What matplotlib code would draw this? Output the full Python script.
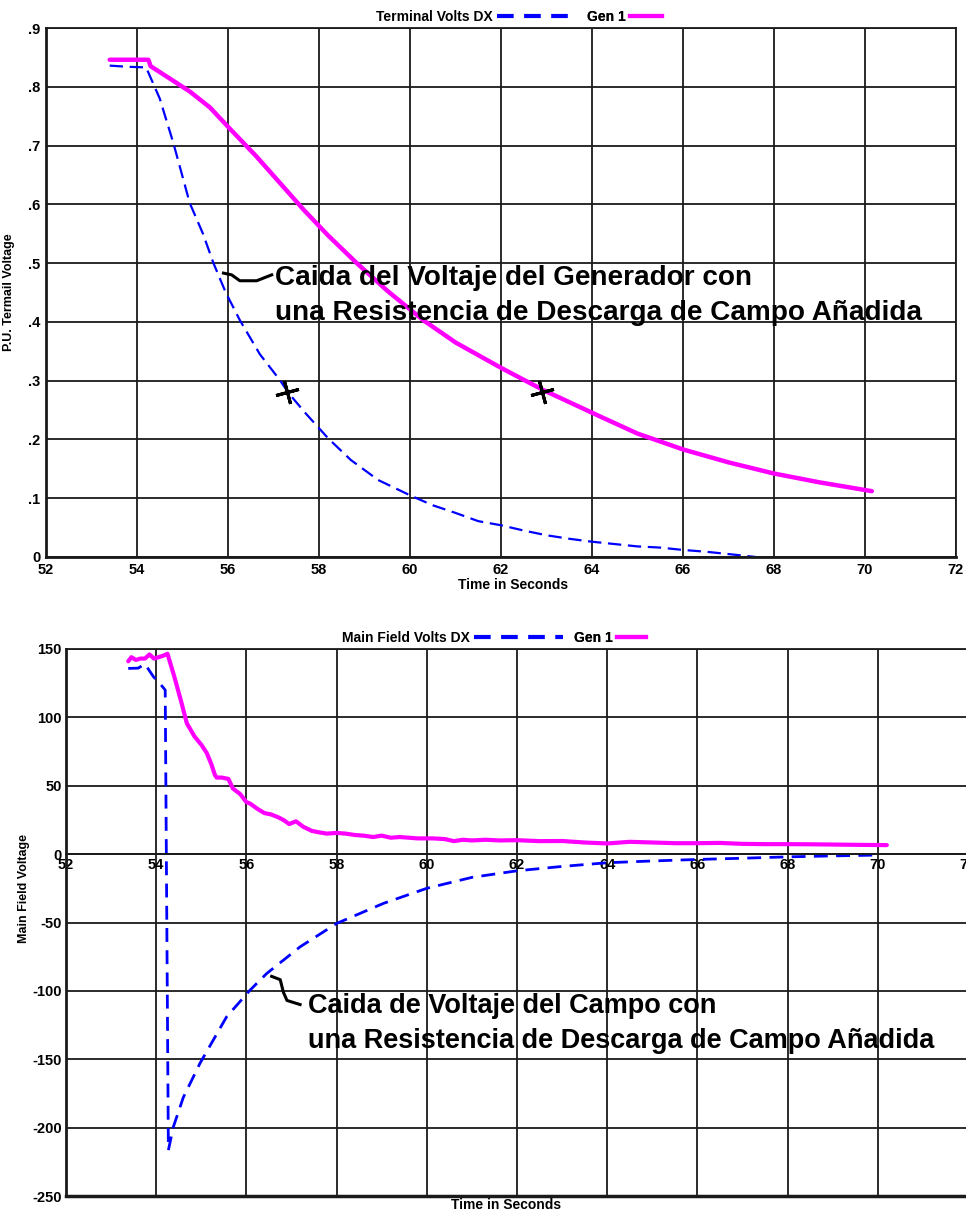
import numpy as np
import matplotlib
matplotlib.use("Agg")
import matplotlib.pyplot as plt
from matplotlib.lines import Line2D

plt.rcParams['font.family'] = ['Liberation Sans', 'DejaVu Sans']
plt.rcParams['font.weight'] = 'bold'
plt.rcParams['axes.unicode_minus'] = False

# ---- datos panel superior (tensión en bornes, p.u.) ----
top_time_dx = [53.4, 53.8, 54.2, 54.5, 54.8, 55.16, 55.45, 55.68, 55.95, 56.26, 56.7,
               57.14, 57.33, 57.7, 58.2, 58.7, 59.3, 60.0, 60.5, 61.0, 61.5, 62.0,
               62.5, 63.0, 63.5, 64.0, 64.5, 65.0, 65.5, 66.0, 66.5, 67.0, 67.6]
top_volts_dx = [0.836, 0.834, 0.833, 0.78, 0.704, 0.602, 0.55, 0.50, 0.45, 0.403, 0.345,
                0.301, 0.279, 0.245, 0.202, 0.165, 0.131, 0.105, 0.088, 0.075, 0.061, 0.054,
                0.045, 0.037, 0.031, 0.026, 0.022, 0.018, 0.016, 0.012, 0.009, 0.005, 0.0]

top_time_gen = [53.4, 53.8, 54.25, 54.3, 54.6, 55.16, 55.6, 56.0, 56.63, 57.1, 57.66,
                58.2, 58.83, 59.5, 60.29, 61.0, 62.02, 62.93, 64.18, 65.0, 66.0, 67.0,
                68.0, 69.0, 70.15]
top_volts_gen = [0.846, 0.846, 0.846, 0.835, 0.82, 0.792, 0.765, 0.732, 0.681, 0.64, 0.591,
                 0.547, 0.50, 0.453, 0.403, 0.365, 0.321, 0.284, 0.239, 0.210, 0.183, 0.161,
                 0.142, 0.127, 0.112]

top_marks_x = [57.3, 62.9]
top_marks_y = [0.28, 0.28]
top_conn_x = [55.90, 56.08, 56.26, 56.63, 56.96]
top_conn_y = [0.483, 0.480, 0.470, 0.470, 0.480]

top_yticks = [0, 0.1, 0.2, 0.3, 0.4, 0.5, 0.6, 0.7, 0.8, 0.9]
top_ylabels = ['0', '.1', '.2', '.3', '.4', '.5', '.6', '.7', '.8', '.9']

# ---- datos panel inferior (tensión de campo) ----
bot_time_dx = [53.38, 53.6, 53.75, 53.94, 54.1, 54.2, 54.27, 54.38, 54.6, 54.97, 55.56,
               56.08, 56.45, 57.19, 58.0, 59.04, 60.0, 61.0, 62.0, 63.0, 64.0, 65.0,
               66.0, 67.0, 68.0, 69.0, 70.0]
bot_volts_dx = [135.8, 136, 139, 129.7, 124, 120, -216.5, -199.5, -178, -153, -119,
                -99.5, -87.3, -67.8, -50.7, -36, -25, -17, -12.2, -9, -6.3, -5,
                -3.9, -3, -2, -1.3, -0.7]

bot_time_gen = [53.38, 53.45, 53.55, 53.65, 53.75, 53.85, 53.95, 54.05, 54.15, 54.25,
                54.4, 54.55, 54.68, 54.85, 55.0, 55.12, 55.22, 55.3, 55.34, 55.45,
                55.6, 55.7, 55.86, 56.0, 56.08, 56.25, 56.4, 56.55, 56.7, 56.82,
                56.95, 57.1, 57.26, 57.45, 57.6, 57.78, 58.0, 58.2, 58.4, 58.6,
                58.81, 59.0, 59.2, 59.4, 59.6, 59.8, 60.14, 60.4, 60.6, 60.8,
                61.0, 61.3, 61.62, 62.0, 62.5, 63.0, 63.5, 64.0, 64.5, 65.0,
                65.5, 66.0, 66.5, 67.0, 67.5, 68.0, 68.5, 69.0, 69.5, 70.2]
bot_volts_gen = [141, 144, 142, 143, 143, 146, 143, 144, 145, 146.5,
                 130, 112, 95.6, 86, 80, 74, 66, 58, 56, 56,
                 55, 48, 44, 38, 37, 33, 30, 29, 27, 25,
                 22, 24, 20, 17, 16, 15, 15.5, 15, 14, 13.5,
                 12.5, 13.5, 12, 12.5, 12, 11.5, 11.5, 11, 9.5, 10.5,
                 10, 10.5, 10, 10.2, 9.5, 9.6, 8.5, 7.8, 9, 8.5,
                 8, 8, 8.2, 7.5, 7.3, 7.3, 7.2, 7.0, 6.8, 6.6]

bot_conn_x = [56.56, 56.75, 56.82, 56.90, 57.19]
bot_conn_y = [-89.4, -91.8, -101, -107, -110]

bot_yticks = [-250, -200, -150, -100, -50, 0, 50, 100, 150]
xticks = [52, 54, 56, 58, 60, 62, 64, 66, 68, 70, 72]

BLUE = '#0000ff'
MAGENTA = '#ff00ff'
GRID = '#1a1a1a'
LEG = {'size': 10, 'weight': 'bold'}


def leyenda(ax, handle, label, xc, hl):
    lg = ax.legend([handle], [label], loc='lower center', bbox_to_anchor=(xc, 0.995),
                   frameon=False, markerfirst=False, handlelength=hl,
                   handletextpad=0.3, borderaxespad=0.1, prop=LEG)
    ax.add_artist(lg)


fig = plt.figure(figsize=(9.66, 12.13), dpi=100)

# ================= panel superior =================
ax1 = fig.add_axes([46 / 966, 1 - 557 / 1213, 910 / 966, 529 / 1213])
ax1.plot(top_time_dx, top_volts_dx, color=BLUE, lw=1.6, ls=(0, (6, 3)))
ax1.plot(top_time_gen, top_volts_gen, color=MAGENTA, lw=3.2, solid_capstyle='round')
ax1.plot(top_marks_x, top_marks_y, ls='none', color='black', marker=(4, 2, 15),
         ms=17, mew=2.2)
ax1.plot(top_conn_x, top_conn_y, color='black', lw=2.2)
ax1.set_xlim(52, 72)
ax1.set_ylim(0, 0.9)
ax1.set_xticks(xticks)
ax1.set_yticks(top_yticks)
ax1.set_yticklabels(top_ylabels)
ax1.grid(True, color=GRID, lw=1.3)
ax1.tick_params(length=0, labelsize=10.5, pad=4)
for s in ax1.spines.values():
    s.set_color(GRID)
    s.set_linewidth(1.3)
ax1.spines['left'].set_linewidth(2)
ax1.spines['bottom'].set_linewidth(2)
ax1.text(0.513, -0.053, 'Time in Seconds', transform=ax1.transAxes, ha='center', va='center',
         fontsize=10, fontweight='bold')
ax1.set_ylabel('P.U. Termail Voltage', fontsize=9, fontweight='bold')
ax1.yaxis.set_label_coords(-0.034, 0.5)
ax1.text(57.03, 0.496, 'Caida del Voltaje del Generador con\nuna Resistencia de Descarga de Campo Añadida',
         fontsize=20.1, fontweight='bold', va='top', ha='left', linespacing=1.45)
leyenda(ax1, Line2D([], [], color=BLUE, lw=3, ls=(0, (4, 2.5))), 'Terminal Volts DX', 0.468, 5.1)
leyenda(ax1, Line2D([], [], color=MAGENTA, lw=3), 'Gen 1', 0.636, 2.3)

# ================= panel inferior =================
ax2 = fig.add_axes([66 / 966, 1 - 1196 / 1213, 902 / 966, 547 / 1213])
ax2.plot(bot_time_dx, bot_volts_dx, color=BLUE, lw=2.0, ls=(0, (5, 3)))
ax2.plot(bot_time_gen, bot_volts_gen, color=MAGENTA, lw=3.0, solid_capstyle='round')
ax2.plot(bot_conn_x, bot_conn_y, color='black', lw=2.2)
ax2.set_xlim(52, 72)
ax2.set_ylim(-250, 150)
ax2.set_xticks(xticks)
ax2.set_yticks(bot_yticks)
ax2.grid(True, color=GRID, lw=1.3)
ax2.tick_params(length=0, labelsize=10.5, pad=3)
for s in ax2.spines.values():
    s.set_color(GRID)
    s.set_linewidth(1.3)
ax2.spines['left'].set_linewidth(2)
ax2.spines['right'].set_visible(False)
ax2.spines['bottom'].set_position(('data', 0))
ax2.axhline(-250, color=GRID, lw=2.5, clip_on=False)
ax2.text(0.488, -0.0165, 'Time in Seconds', transform=ax2.transAxes, ha='center', va='center',
         fontsize=10, fontweight='bold')
ax2.set_ylabel('Main Field Voltage', fontsize=9, fontweight='bold')
ax2.yaxis.set_label_coords(-0.04, 0.563)
ax2.text(57.37, -101.7, 'Caida de Voltaje del Campo con\nuna Resistencia de Descarga de Campo Añadida',
         fontsize=19.5, fontweight='bold', va='top', ha='left', linespacing=1.45)
leyenda(ax2, Line2D([], [], color=BLUE, lw=3, ls=(0, (4, 2.5))), 'Main Field Volts DX', 0.428, 6.4)
leyenda(ax2, Line2D([], [], color=MAGENTA, lw=3), 'Gen 1', 0.603, 2.1)

fig.savefig('out.png', dpi=100)
